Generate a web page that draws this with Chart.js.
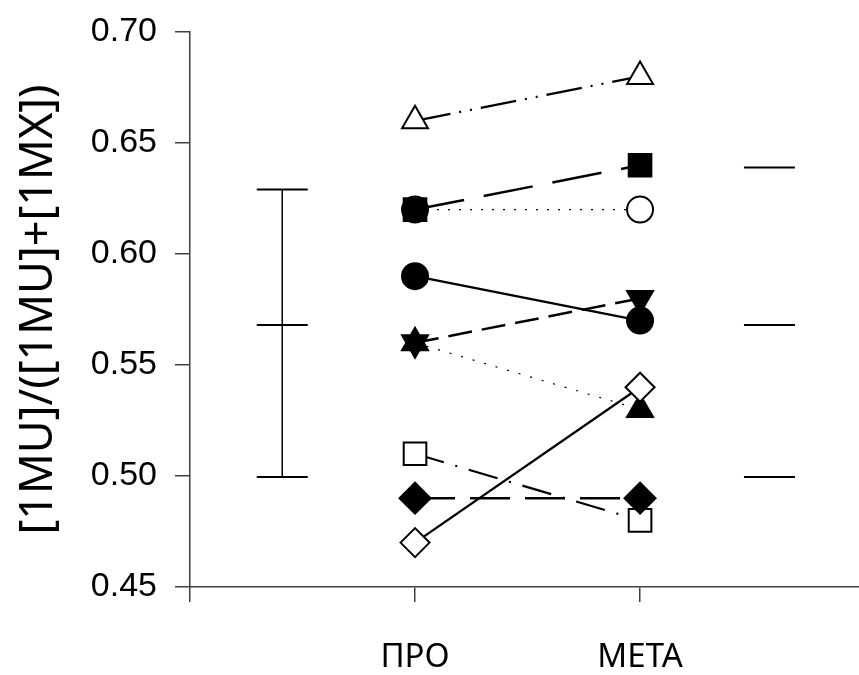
<!DOCTYPE html>
<html>
<head>
<meta charset="utf-8">
<script src="https://cdn.jsdelivr.net/npm/chart.js@4"></script>
<style>
  html, body { margin: 0; padding: 0; background: #fff; }
  #wrap { width: 859px; height: 675px; }
</style>
</head>
<body>
<div id="wrap"><canvas id="chart"></canvas></div>
<script>
// categories on the x axis (position 0 is the axis itself)
const categories = ['', 'ПРО', 'МЕТА'];
const yTicks = [0.45, 0.50, 0.55, 0.60, 0.65, 0.70];

// paired values, ПРО -> МЕТА
const openTriangle  = [0.66, 0.68];
const filledSquare  = [0.62, 0.64];
const openCircle    = [0.62, 0.62];
const filledCircle  = [0.59, 0.57];
const filledInvTri  = [0.56, 0.58];
const filledTri     = [0.56, 0.53];
const openDiamond   = [0.47, 0.54];
const openSquare    = [0.51, 0.48];
const filledDiamond = [0.49, 0.49];

// summary: ПРО bar (mean +/- sd) and МЕТА marks
const proStatsX = 0.41;
const proStats  = [0.629, 0.568, 0.4995];
const metaStatsX = 2.575;
const metaStats = [0.639, 0.568, 0.4995];

function pair(vals) {
  return vals.map(function(v, i) { return { x: i + 1, y: v }; });
}
function column(x, vals) {
  return vals.map(function(v) { return { x: x, y: v }; });
}

function series(vals, style, radius, filled, dash, width, order, rotation) {
  return {
    data: pair(vals),
    showLine: true,
    borderColor: '#000',
    borderWidth: width,
    borderDash: dash,
    pointStyle: style,
    pointRadius: radius,
    pointRotation: rotation || 0,
    pointBackgroundColor: filled ? '#000' : '#fff',
    pointBorderColor: '#000',
    pointBorderWidth: 2,
    order: order
  };
}

const datasets = [
  series(openTriangle, 'triangle', 15, false, [36, 9, 2, 9, 2, 9], 2.2, 1),
  series(filledSquare, 'rect', 16, true, [50, 20], 2.5, 1),
  series(openCircle, 'circle', 13, false, [2, 9], 1.2, 5),
  series(filledCircle, 'circle', 13, true, [], 2.3, 3),
  series(filledInvTri, 'triangle', 15, true, [24, 10], 2.5, 4, 180),
  series(filledTri, 'triangle', 15, true, [2, 10], 1.2, 4),
  series(openDiamond, 'rectRot', 14.5, false, [], 2.3, 1),
  series(openSquare, 'rect', 16, false, [30, 12, 2, 12], 2.2, 3),
  series(filledDiamond, 'rectRot', 15.5, true, [40, 15], 2.5, 2),
  {
    data: column(proStatsX, proStats),
    showLine: true,
    borderColor: '#000',
    borderWidth: 1.5,
    pointStyle: 'line',
    pointRadius: 25.5,
    pointBorderColor: '#000',
    pointBorderWidth: 2,
    order: 6
  },
  {
    data: column(metaStatsX, metaStats),
    showLine: false,
    pointStyle: 'line',
    pointRadius: 25.5,
    pointBorderColor: '#000',
    pointBorderWidth: 2,
    order: 6
  }
];

const axisColor = '#404040';

new Chart(document.getElementById('chart'), {
  type: 'scatter',
  data: { datasets: datasets },
  options: {
    responsive: true,
    maintainAspectRatio: false,
    animation: false,
    layout: { autoPadding: false, padding: { top: 32, right: 0, left: 0, bottom: 0 } },
    plugins: { legend: { display: false }, tooltip: { enabled: false } },
    scales: {
      x: {
        type: 'linear',
        min: 0,
        max: 2.973,
        afterBuildTicks: function(scale) {
          scale.ticks = categories.map(function(c, i) { return { value: i }; });
        },
        afterFit: function(scale) { scale.height = 88; },
        border: { display: true, color: axisColor, width: 1.5 },
        grid: { drawOnChartArea: false, drawTicks: true, tickLength: 15, color: axisColor, lineWidth: 1.5 },
        ticks: {
          padding: 36,
          color: '#000',
          maxRotation: 0,
          font: { family: 'Noto Sans', size: 33 },
          callback: function(v) { return categories[v] || ''; }
        }
      },
      y: {
        min: 0.45,
        max: 0.70,
        afterBuildTicks: function(scale) {
          scale.ticks = yTicks.map(function(v) { return { value: v }; });
        },
        afterFit: function(scale) {
          scale.width = 190;
          scale.paddingTop = 0;
          scale.paddingBottom = 0;
        },
        border: { display: true, color: axisColor, width: 1.5 },
        grid: { drawOnChartArea: false, drawTicks: true, tickLength: 15, color: axisColor, lineWidth: 1.5 },
        ticks: {
          padding: 18,
          color: '#000',
          font: { family: 'Liberation Sans', size: 34 },
          callback: function(v) { return v.toFixed(2); }
        },
        title: {
          display: true,
          text: '[1MU]/([1MU]+[1MX])',
          color: '#000',
          font: { family: 'Noto Sans', size: 45 },
          padding: { top: 12, bottom: 0 }
        }
      }
    }
  }
});
</script>
</body>
</html>
